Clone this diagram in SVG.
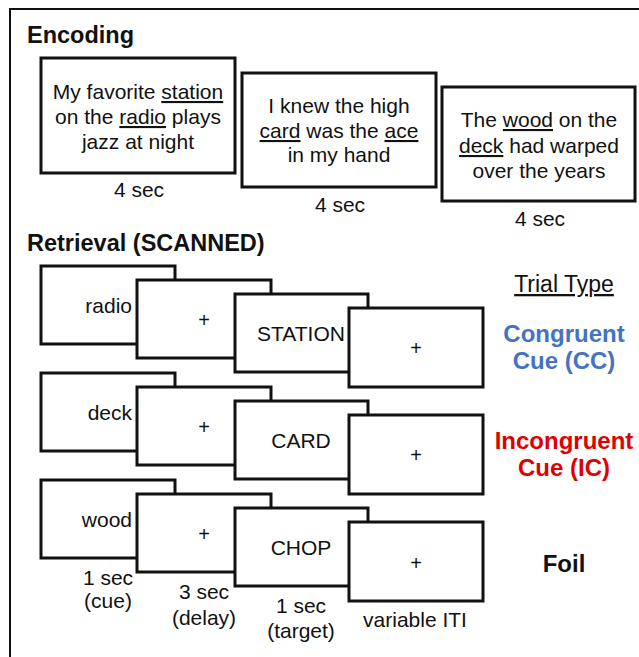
<svg xmlns="http://www.w3.org/2000/svg" width="639" height="657" viewBox="0 0 639 657">
<style>
text{font-family:"Liberation Sans",Arial,sans-serif;fill:#111}
.t{font-size:21px}
.m{text-anchor:middle}
.h{font-size:23.5px;font-weight:bold}
.b{fill:#fff;stroke:#111;stroke-width:3}
.p{font-size:20px;text-anchor:middle}
.u{text-decoration:underline}
.lab{font-size:24px;font-weight:bold;text-anchor:middle}
</style>
<rect width="639" height="657" fill="#fff"/>
<path d="M10,660 V9 H645" fill="none" stroke="#111" stroke-width="2"/>

<g id="title-encoding"><text class="h" x="27" y="43">Encoding</text></g>

<g id="enc1">
<rect class="b" x="41" y="58" width="194" height="115"/>
<text class="t m" x="138" y="99">My favorite <tspan class="u">station</tspan></text>
<text class="t m" x="138" y="124">on the <tspan class="u">radio</tspan> plays</text>
<text class="t m" x="138" y="149">jazz at night</text>
<text class="t m" x="139" y="197">4 sec</text>
</g>
<g id="enc2">
<rect class="b" x="242" y="73" width="194" height="114"/>
<text class="t m" x="339" y="113">I knew the high</text>
<text class="t m" x="339" y="138"><tspan class="u">card</tspan> was the <tspan class="u">ace</tspan></text>
<text class="t m" x="339" y="162">in my hand</text>
<text class="t m" x="340" y="212">4 sec</text>
</g>
<g id="enc3">
<rect class="b" x="442" y="87" width="193" height="114"/>
<text class="t m" x="539" y="127">The <tspan class="u">wood</tspan> on the</text>
<text class="t m" x="539" y="153"><tspan class="u">deck</tspan> had warped</text>
<text class="t m" x="539" y="178">over the years</text>
<text class="t m" x="540" y="226">4 sec</text>
</g>

<g id="title-retrieval"><text class="h" x="27" y="251">Retrieval (SCANNED)</text></g>

<g id="row-cc">
<rect class="b" x="41" y="266" width="134" height="78"/>
<text class="t" x="132" y="313" text-anchor="end">radio</text>
<rect class="b" x="137" y="280" width="134" height="78"/>
<text class="p" x="204" y="327">+</text>
<rect class="b" x="235" y="294" width="133" height="78"/>
<text class="t m" x="301" y="341">STATION</text>
<rect class="b" x="349" y="308" width="134" height="79"/>
<text class="p" x="416" y="355">+</text>
</g>
<g id="row-ic">
<rect class="b" x="41" y="373" width="134" height="78"/>
<text class="t" x="132" y="420" text-anchor="end">deck</text>
<rect class="b" x="137" y="387" width="134" height="78"/>
<text class="p" x="204" y="434">+</text>
<rect class="b" x="235" y="401" width="133" height="78"/>
<text class="t m" x="301" y="448">CARD</text>
<rect class="b" x="349" y="415" width="134" height="79"/>
<text class="p" x="416" y="462">+</text>
</g>
<g id="row-foil">
<rect class="b" x="41" y="480" width="134" height="78"/>
<text class="t" x="132" y="527" text-anchor="end">wood</text>
<rect class="b" x="137" y="494" width="134" height="78"/>
<text class="p" x="204" y="541">+</text>
<rect class="b" x="235" y="508" width="133" height="78"/>
<text class="t m" x="301" y="555">CHOP</text>
<rect class="b" x="349" y="522" width="134" height="79"/>
<text class="p" x="416" y="570">+</text>
</g>

<g id="timing">
<text class="t m" x="108" y="585">1 sec</text>
<text class="t m" x="108" y="608">(cue)</text>
<text class="t m" x="204" y="599">3 sec</text>
<text class="t m" x="204" y="625">(delay)</text>
<text class="t m" x="301" y="613">1 sec</text>
<text class="t m" x="301" y="638">(target)</text>
<text class="t m" x="415" y="627">variable ITI</text>
</g>

<g id="trial-types">
<text class="m u" x="564" y="292" style="font-size:23px">Trial Type</text>
<text class="lab" x="564" y="342" style="fill:#4472c4">Congruent</text>
<text class="lab" x="564" y="369" style="fill:#4472c4">Cue (CC)</text>
<text class="lab" x="564" y="449" style="fill:#e00000">Incongruent</text>
<text class="lab" x="564" y="476" style="fill:#e00000">Cue (IC)</text>
<text class="lab" x="564" y="572">Foil</text>
</g>
</svg>
